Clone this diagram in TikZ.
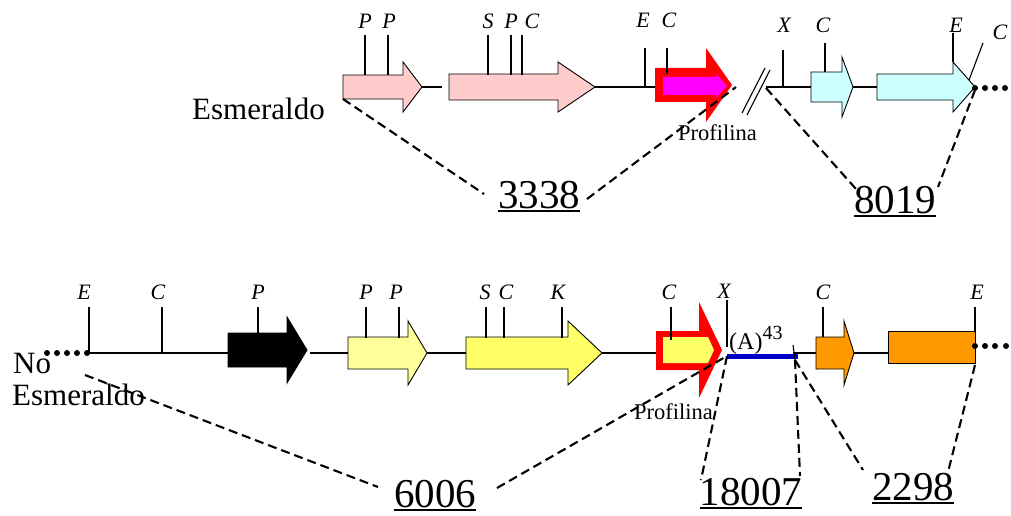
\documentclass[tikz,border=0pt]{standalone}
\usepackage{fontspec}
\setmainfont{Liberation Serif}
\newcommand{\gArrow}[7]{%
  \draw[genebox,fill=#1] (#2,#5-#6) -- (#3,#5-#6) -- (#3,#5-#7) -- (#4,#5) -- (#3,#5+#7) -- (#3,#5+#6) -- (#2,#5+#6) -- cycle;}
\definecolor{pinkc}{HTML}{FFCCCC}
\definecolor{cyanc}{HTML}{CCFFFF}
\definecolor{ltyel}{HTML}{FFFF99}
\definecolor{yelc}{HTML}{FFFF66}
\definecolor{orc}{HTML}{FF9900}
\definecolor{bluec}{HTML}{0000CC}
\definecolor{redc}{HTML}{FF0000}
\definecolor{magc}{HTML}{FF00FF}
\begin{document}
\begin{tikzpicture}[x=1pt,y=-1pt,
  genebox/.style={draw=black,line width=0.9pt,line join=miter},
  dna/.style={line width=1.1pt},
  tk/.style={line width=1.1pt},
  dashln/.style={line width=2.1pt,dash pattern=on 9pt off 5pt},
  site/.style={font=\fontsize{22}{26}\selectfont\itshape,inner sep=0pt,anchor=base},
  num/.style={font=\fontsize{41}{46}\selectfont,inner sep=0pt,anchor=base},
  lbl/.style={font=\fontsize{31}{35}\selectfont,inner sep=0pt,anchor=base west},
  smalltxt/.style={font=\fontsize{22.5}{26}\selectfont,inner sep=0pt,anchor=base west},
  uline/.style={line width=1.6pt}]
\useasboundingbox (0,0) rectangle (1011,516);
% ---------------- top row ----------------
\draw[dna] (422,87) -- (442,87);
\draw[dna] (595,87) -- (655,87);
\draw[dna] (766,87) -- (811,87);
\draw[dna] (853,87) -- (877,87);
\gArrow{pinkc}{343}{403}{422}{87}{12}{25}
\gArrow{pinkc}{449}{558}{595}{87}{13}{25}
\fill[redc] (655,68) -- (706,68) -- (706,48) -- (732,85) -- (706,122) -- (706,102) -- (655,102) -- cycle;
\fill[magc] (663,77) -- (716,77) -- (716,74) -- (727,86) -- (716,98) -- (716,95) -- (663,95) -- cycle;
\gArrow{cyanc}{811}{842}{853}{87}{15}{30}
\gArrow{cyanc}{877}{953}{975}{87}{13}{25}
% slash
\draw[tk] (742,113) -- (765,68);
\draw[tk] (747,115) -- (770,70);
% ticks top
\foreach \x in {365,388,488,511,522} \draw[tk] (\x,35) -- (\x,75);
\draw[tk] (645,48) -- (645,87);
\draw[tk] (667,48) -- (667,74);
\draw[tk] (783,50) -- (783,87);
\draw[tk] (825,43) -- (825,72);
\draw[tk] (953,33) -- (953,62);
\draw[tk] (983,43) -- (969,80);
\foreach \x in {975,985,995,1005} \fill (\x,88) circle[radius=3pt];
% site labels top
\node[site] (tP1) at (365,29) {P};
\node[site] (tP2) at (389,29) {P};
\node[site] (tS) at (488,29) {S};
\node[site] (tP3) at (511,29) {P};
\node[site] (tC1) at (532,29) {C};
\node[site] (tE1) at (643,28) {E};
\node[site] (tC2) at (669,28) {C};
\node[site] (tX) at (784,33) {X};
\node[site] (tC3) at (823,33) {C};
\node[site] (tE2) at (956,33) {E};
\node[site] (tC4) at (1000,40) {C};
% texts top
\node[lbl] (esm) at (192,120) {Esmeraldo};
\node[smalltxt] (prof1) at (678,140) {Profilina};
\node[num] (n3338) at (539,208) {3338};
\node[num] (n8019) at (895,213) {8019};
\draw[uline] ([yshift=-3pt]n3338.base west) -- ([yshift=-3pt]n3338.base east);
\draw[uline] ([yshift=-3pt]n8019.base west) -- ([yshift=-3pt]n8019.base east);
% dashed top
\coordinate (a1) at (343,99);
\coordinate (a2) at (484,194);
\coordinate (a3) at (587,199);
\coordinate (a4) at (736,87);
\coordinate (a5) at (766,88);
\coordinate (a6) at (856,189);
\coordinate (a7) at (975,90);
\coordinate (a8) at (938,187);
\draw[dashln] (a1) -- (a2);
\draw[dashln] (a3) -- (a4);
\draw[dashln] (a5) -- (a6);
\draw[dashln] (a7) -- (a8);
% ---------------- bottom row ----------------
\draw[dna] (87,353) -- (228,353);
\draw[dna] (310,353) -- (348,353);
\draw[dna] (427,353) -- (466,353);
\draw[dna] (602,353) -- (656,353);
\draw[dna] (793,353) -- (816,353);
\draw[dna] (854,353) -- (888,353);
\foreach \x in {47,57,67,77,87} \fill (\x,353) circle[radius=3pt];
\gArrow{black}{228}{287}{307}{350}{17}{33}
\gArrow{ltyel}{348}{408}{427}{353}{16}{32}
\gArrow{yelc}{466}{568}{602}{353}{16}{32}
\fill[redc] (656,331) -- (699,331) -- (699,302) -- (722,350) -- (699,398) -- (699,370) -- (656,370) -- cycle;
\fill[yelc] (663,337) -- (708,337) -- (714,350) -- (708,363) -- (663,363) -- cycle;
\draw[bluec,line width=5pt] (727,356) -- (798,356);
\gArrow{orc}{816}{844}{854}{353}{16}{32}
\draw[genebox,fill=orc] (888,331) rectangle (975,363);
\foreach \x in {975,985,995,1006} \fill (\x,346) circle[radius=3pt];
% ticks bottom
\draw[tk] (89,307) -- (89,353);
\draw[tk] (162,307) -- (162,353);
\draw[tk] (258,307) -- (258,334);
\foreach \x in {366,399,486,504,562} \draw[tk] (\x,307) -- (\x,338);
\draw[tk] (671,307) -- (671,340);
\draw[tk] (727,300) -- (727,347);
\draw[tk] (823,307) -- (823,337);
\draw[tk] (975,307) -- (975,331);
\draw[tk] (793,345) -- (795,360);
% site labels bottom
\node[site] (bE1) at (84,299) {E};
\node[site] (bC1) at (158,299) {C};
\node[site] (bP1) at (258,299) {P};
\node[site] (bP2) at (366,299) {P};
\node[site] (bP3) at (396,299) {P};
\node[site] (bS) at (485,299) {S};
\node[site] (bC2) at (506,299) {C};
\node[site] (bK) at (558,299) {K};
\node[site] (bC3) at (669,299) {C};
\node[site] (bX) at (724,298) {X};
\node[site] (bC4) at (823,299) {C};
\node[site] (bE2) at (977,299) {E};
% texts bottom
\node[lbl] (no) at (13,373) {No};
\node[lbl] (noesm) at (12,405) {Esmeraldo};
\node[smalltxt] (prof2) at (634,419) {Profilina};
\node[font=\fontsize{24}{28}\selectfont,inner sep=0pt,anchor=base west] (polyA) at (729,349) {(A)\textsuperscript{\fontsize{20}{22}\selectfont 43}};
\node[num] (n6006) at (435,507) {6006};
\node[num] (n18007) at (751,505) {18007};
\node[num] (n2298) at (913,500) {2298};
\draw[uline] ([yshift=-3pt]n6006.base west) -- ([yshift=-3pt]n6006.base east);
\draw[uline] ([yshift=-3pt]n18007.base west) -- ([yshift=-3pt]n18007.base east);
\draw[uline] ([yshift=-3pt]n2298.base west) -- ([yshift=-3pt]n2298.base east);
% dashed bottom
\coordinate (b1) at (85,375);
\coordinate (b2) at (378,487);
\coordinate (b3) at (497,488);
\coordinate (b4) at (727,356);
\coordinate (b5) at (701,480);
\coordinate (b6) at (795,360);
\coordinate (b7) at (800,476);
\coordinate (b8) at (863,470);
\coordinate (b9) at (975,365);
\coordinate (b10) at (948,472);
\draw[dashln] (b1) -- (b2);
\draw[dashln] (b3) -- (b4);
\draw[dashln] (b4) -- (b5);
\draw[dashln] (b6) -- (b7);
\draw[dashln] (b6) -- (b8);
\draw[dashln] (b9) -- (b10);
\end{tikzpicture}
\end{document}
